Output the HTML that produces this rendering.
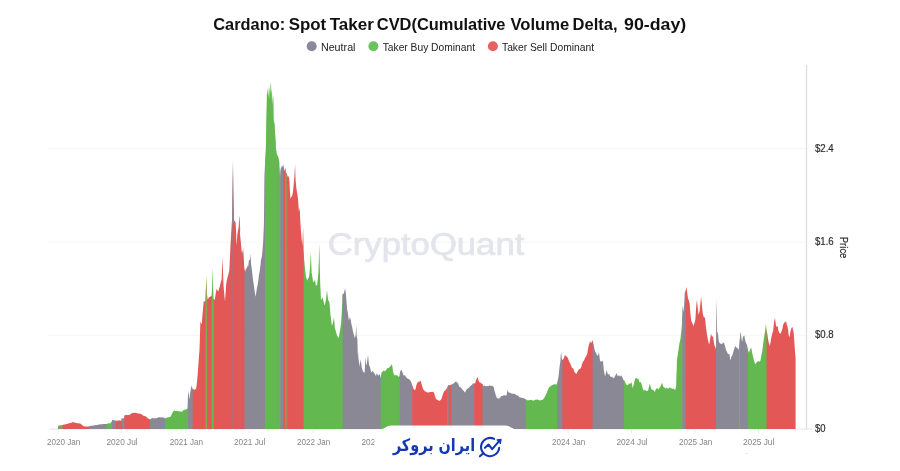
<!DOCTYPE html>
<html lang="en"><head><meta charset="utf-8"><title>Cardano: Spot Taker CVD</title>
<style>
html,body{margin:0;padding:0;background:#fff;}
body{width:900px;height:471px;position:relative;overflow:hidden;font-family:"Liberation Sans","DejaVu Sans",sans-serif;}
svg{position:absolute;left:0;top:0;will-change:transform;}
svg text{font-family:"Liberation Sans","DejaVu Sans",sans-serif;}
#brand{z-index:3;position:absolute;left:374.2px;top:432.3px;width:120px;height:26px;line-height:26px;font-family:"DejaVu Sans","Liberation Sans",sans-serif;font-weight:bold;font-size:17.3px;color:#1338B4;direction:rtl;text-align:center;white-space:nowrap;transform:scale(0.833,1);transform-origin:50% 50%;}
#copy{position:absolute;left:744px;top:452.6px;height:1.8px;overflow:hidden;font-size:6.6px;line-height:8px;color:#c0c0c0;white-space:nowrap;}
</style></head><body>
<svg width="900" height="471" viewBox="0 0 900 471">
<text y="29.9" font-size="16.5" font-weight="bold" fill="#111"><tspan x="213.3" textLength="71.8" lengthAdjust="spacingAndGlyphs">Cardano:</tspan> <tspan x="288.7" textLength="37.5" lengthAdjust="spacingAndGlyphs">Spot</tspan> <tspan x="329.7" textLength="44.1" lengthAdjust="spacingAndGlyphs">Taker</tspan> <tspan x="376.8" textLength="128.7" lengthAdjust="spacingAndGlyphs">CVD(Cumulative</tspan> <tspan x="510.5" textLength="58.8" lengthAdjust="spacingAndGlyphs">Volume</tspan> <tspan x="572.6" textLength="45.0" lengthAdjust="spacingAndGlyphs">Delta,</tspan> <tspan x="624.1" textLength="62.2" lengthAdjust="spacingAndGlyphs">90-day)</tspan></text>
<circle cx="311.7" cy="46.2" r="5" fill="#8B8998"/><circle cx="373.4" cy="46.2" r="5" fill="#6CC25E"/><circle cx="492.9" cy="46.2" r="5" fill="#E86060"/>
<g font-size="11.2" fill="#222">
<text x="320.9" y="50.9" textLength="34.6" lengthAdjust="spacingAndGlyphs">Neutral</text>
<text x="382.7" y="50.9" textLength="92.3" lengthAdjust="spacingAndGlyphs">Taker Buy Dominant</text>
<text x="502" y="50.9" textLength="92" lengthAdjust="spacingAndGlyphs">Taker Sell Dominant</text>
</g>
<g stroke="#f5f5f5" stroke-width="1">
<line x1="48" x2="806" y1="148.6" y2="148.6"/><line x1="48" x2="806" y1="242.2" y2="242.2"/><line x1="48" x2="806" y1="335.2" y2="335.2"/>
<line x1="49" x2="812" y1="429" y2="429" stroke="#e6e6ea"/>
<path d="M58 429V433M121.5 429V433M185.5 429V433M249 429V433M313 429V433M568 429V433M631.5 429V433M695 429V433M758.5 429V433" stroke="#ececec"/>
</g>
<text x="327.8" y="255.4" font-size="31.5" fill="#E4E4EC" stroke="#E4E4EC" stroke-width="0.7" textLength="196.5" lengthAdjust="spacingAndGlyphs">CryptoQuant</text>
<g>
<path d="M58.0 429.0 L58.0 425.9 L58.5 425.8 L59.0 425.7 L59.5 425.5 L60.2 425.3 L60.2 429.0Z" fill="#8E9870"/>
<path d="M59.5 429.0 L59.5 425.5 L60.0 425.3 L60.5 425.3 L61.0 425.3 L61.7 425.2 L61.7 429.0Z" fill="#63B94F"/>
<path d="M61.0 429.0 L61.0 425.3 L61.5 425.2 L62.0 425.2 L62.5 425.0 L63.2 424.8 L63.2 429.0Z" fill="#B08A60"/>
<path d="M62.5 429.0 L62.5 425.0 L63.0 424.9 L63.3 424.8 L63.5 424.8 L64.0 424.6 L64.5 424.6 L65.0 424.6 L65.5 424.4 L66.0 424.1 L66.5 423.9 L66.7 423.9 L67.0 423.8 L67.5 423.8 L68.0 423.8 L68.5 423.6 L69.0 423.3 L69.5 423.2 L70.0 423.1 L70.5 422.9 L71.0 422.7 L71.5 422.7 L72.0 422.6 L72.5 422.3 L73.0 422.1 L73.3 422.1 L73.5 422.2 L74.0 422.4 L74.5 422.6 L75.0 422.8 L75.5 422.8 L76.0 422.8 L76.5 423.0 L76.7 423.1 L77.0 423.2 L77.5 423.2 L78.0 423.3 L78.5 423.2 L79.0 423.2 L79.5 423.4 L80.0 423.6 L80.5 423.7 L80.8 423.7 L81.0 423.9 L81.5 424.4 L82.0 425.0 L82.5 425.5 L83.0 425.7 L83.5 426.0 L84.0 426.3 L84.5 426.4 L85.0 426.5 L85.5 426.5 L86.0 426.5 L86.5 426.5 L87.0 426.5 L87.5 426.5 L88.0 426.4 L88.3 426.4 L88.5 426.4 L89.0 426.4 L89.2 426.3 L89.9 426.0 L89.9 429.0Z" fill="#E35756"/>
<path d="M89.2 429.0 L89.2 426.3 L89.7 426.1 L90.2 426.0 L90.7 425.9 L91.2 425.8 L91.7 425.7 L91.7 425.7 L92.2 425.6 L92.7 425.7 L93.2 425.6 L93.7 425.6 L94.2 425.4 L94.7 425.2 L95.2 425.1 L95.7 425.0 L95.8 425.0 L96.2 425.0 L96.7 424.9 L97.2 424.8 L97.7 424.9 L98.2 424.8 L98.7 424.6 L99.2 424.5 L99.7 424.4 L100.0 424.4 L100.2 424.3 L100.7 424.3 L101.2 424.2 L101.7 424.2 L102.2 424.2 L102.7 424.2 L103.2 424.1 L103.7 424.1 L104.2 424.1 L104.7 424.1 L105.2 424.1 L105.7 424.1 L106.2 424.1 L106.7 424.1 L106.7 424.1 L107.4 423.7 L107.4 429.0Z" fill="#8B8896"/>
<path d="M106.7 429.0 L106.7 424.1 L107.2 423.8 L107.7 423.5 L108.2 423.2 L108.3 423.1 L108.7 423.2 L109.2 423.4 L109.7 423.4 L110.0 423.5 L110.2 423.3 L110.7 422.8 L111.2 422.3 L111.7 421.8 L111.7 421.7 L112.0 420.9 L112.7 419.9 L112.7 429.0Z" fill="#63B94F"/>
<path d="M112.0 429.0 L112.0 420.9 L112.3 420.0 L112.5 420.0 L113.0 419.9 L113.5 420.1 L114.0 420.3 L114.5 420.3 L115.0 420.4 L115.5 420.4 L115.8 420.4 L116.5 420.8 L116.5 429.0Z" fill="#8B8896"/>
<path d="M115.8 429.0 L115.8 420.4 L115.8 420.4 L116.0 420.9 L116.3 420.8 L116.8 420.7 L117.3 420.7 L117.8 420.7 L118.3 420.6 L119.0 420.4 L119.0 429.0Z" fill="#E35756"/>
<path d="M118.3 429.0 L118.3 420.6 L118.8 420.5 L119.5 420.6 L119.5 429.0Z" fill="#8B8896"/>
<path d="M118.8 429.0 L118.8 420.5 L119.3 420.5 L119.8 420.7 L120.3 420.7 L120.8 420.6 L121.3 420.5 L121.3 420.5 L121.7 418.6 L121.7 418.6 L122.4 418.4 L122.4 429.0Z" fill="#E35756"/>
<path d="M121.7 429.0 L121.7 418.6 L122.2 418.4 L122.7 418.3 L123.2 418.3 L123.7 418.4 L124.0 418.5 L124.2 417.3 L124.9 415.3 L124.9 429.0Z" fill="#8B8896"/>
<path d="M124.2 429.0 L124.2 417.2 L124.5 415.3 L124.7 415.3 L125.2 415.2 L125.7 414.9 L126.2 414.8 L126.7 415.1 L127.2 415.1 L127.7 415.0 L128.2 414.9 L128.7 414.8 L129.2 414.8 L129.7 414.8 L130.0 414.9 L130.2 414.5 L130.7 413.7 L130.8 413.5 L131.2 413.5 L131.7 413.5 L132.2 413.3 L132.7 413.0 L133.2 412.8 L133.7 413.0 L134.2 412.9 L134.7 412.7 L135.0 412.5 L135.2 412.6 L135.7 412.9 L136.2 413.1 L136.7 413.0 L137.2 413.1 L137.7 413.4 L138.2 413.6 L138.7 413.7 L139.2 413.7 L139.7 413.6 L140.2 413.6 L140.7 413.9 L140.8 413.9 L141.2 414.2 L141.7 414.4 L142.2 414.7 L142.7 415.1 L143.2 415.5 L143.3 415.7 L143.7 415.9 L144.2 416.1 L144.7 416.1 L145.2 416.2 L145.7 416.4 L145.8 416.5 L146.2 416.8 L146.7 417.3 L147.2 417.7 L147.7 418.2 L148.2 418.6 L148.3 418.6 L148.7 418.8 L149.2 419.0 L149.7 419.3 L150.0 419.4 L150.7 419.1 L150.7 429.0Z" fill="#E35756"/>
<path d="M150.0 429.0 L150.0 419.4 L150.5 419.2 L151.0 419.0 L151.5 418.5 L152.0 417.9 L152.5 418.1 L153.0 418.3 L153.5 418.3 L154.0 418.4 L154.5 418.3 L155.0 418.1 L155.5 418.2 L156.0 418.3 L156.5 418.3 L156.7 418.3 L157.0 418.1 L157.5 417.8 L158.0 417.5 L158.3 417.2 L158.5 417.2 L159.0 417.3 L159.5 417.3 L160.0 417.3 L160.5 417.3 L161.0 417.4 L161.5 417.5 L162.0 417.6 L162.5 417.5 L163.0 417.4 L163.5 417.4 L164.0 417.5 L164.2 417.5 L164.5 417.9 L165.0 418.4 L165.7 418.3 L165.7 429.0Z" fill="#8B8896"/>
<path d="M165.0 429.0 L165.0 418.5 L165.3 418.7 L165.5 418.5 L166.0 418.0 L166.5 417.7 L166.7 417.5 L167.0 417.5 L167.5 417.5 L168.0 417.6 L168.5 417.4 L169.0 417.1 L169.5 417.0 L170.0 416.9 L170.5 416.6 L170.8 416.4 L171.0 416.0 L171.5 414.8 L172.0 413.7 L172.5 412.5 L173.0 412.0 L173.5 411.3 L174.0 410.5 L174.2 410.4 L174.5 410.6 L175.0 410.9 L175.5 410.9 L176.0 411.0 L176.5 410.8 L177.0 410.7 L177.5 411.0 L178.0 411.2 L178.3 411.2 L178.5 411.2 L179.0 411.2 L179.5 411.4 L180.0 411.5 L180.5 411.5 L181.0 411.5 L181.5 411.7 L181.7 411.7 L182.0 411.5 L182.5 411.2 L183.0 410.8 L183.3 410.3 L183.5 410.2 L184.0 409.8 L184.5 409.7 L185.0 409.6 L185.5 409.7 L185.8 409.7 L186.0 409.6 L186.5 409.2 L187.0 408.9 L187.5 408.1 L188.0 394.8 L188.7 394.6 L188.7 429.0Z" fill="#63B94F"/>
<path d="M188.0 429.0 L188.0 394.5 L188.2 390.6 L188.5 393.1 L189.0 396.8 L189.3 399.2 L189.5 398.0 L190.0 394.1 L190.2 392.5 L190.5 390.9 L191.0 388.2 L191.5 385.7 L191.6 385.5 L192.0 386.9 L192.5 388.4 L192.7 389.0 L193.4 389.4 L193.4 429.0Z" fill="#8B8896"/>
<path d="M192.7 429.0 L192.7 389.1 L192.7 389.2 L193.2 389.3 L193.7 389.5 L194.2 389.7 L194.4 389.9 L194.7 389.8 L195.2 389.6 L195.7 389.1 L196.1 388.8 L196.2 388.3 L196.7 384.4 L197.0 382.1 L197.2 379.6 L197.7 374.0 L197.8 372.4 L198.2 367.2 L198.7 359.7 L198.7 359.5 L199.2 353.2 L199.5 349.6 L199.7 344.1 L200.2 327.5 L200.4 321.5 L200.7 322.3 L201.2 323.4 L201.7 324.1 L201.7 324.1 L202.2 318.4 L202.7 312.4 L203.2 306.8 L203.7 302.0 L203.8 301.2 L204.2 301.6 L204.7 301.2 L205.2 301.1 L205.5 301.3 L205.6 298.0 L206.3 276.7 L206.3 429.0Z" fill="#E35756"/>
<path d="M205.6 429.0 L205.6 297.7 L206.1 282.6 L206.3 275.9 L206.6 283.5 L207.0 294.4 L207.7 299.6 L207.7 429.0Z" fill="#8FA650"/>
<path d="M207.0 429.0 L207.0 294.7 L207.2 299.7 L207.5 299.6 L208.0 299.6 L208.0 299.5 L208.5 298.2 L209.0 296.9 L209.5 296.9 L210.0 296.9 L210.5 296.6 L210.6 296.6 L211.0 296.1 L211.5 296.3 L211.6 296.4 L212.3 280.8 L212.3 429.0Z" fill="#E35756"/>
<path d="M211.6 429.0 L211.6 296.4 L211.9 296.5 L212.1 289.5 L212.6 267.6 L212.6 267.2 L213.1 284.0 L213.5 297.5 L213.6 298.2 L213.8 298.9 L214.5 299.8 L214.5 429.0Z" fill="#63B94F"/>
<path d="M213.8 429.0 L213.8 299.0 L214.3 299.8 L214.8 299.9 L214.8 299.9 L215.3 296.3 L215.8 293.0 L216.3 290.0 L216.5 288.7 L216.8 289.3 L217.3 290.3 L217.8 291.2 L218.2 291.4 L218.3 291.1 L218.8 289.4 L219.3 287.8 L219.8 286.4 L219.9 286.0 L220.3 284.3 L220.8 282.1 L221.3 280.5 L221.6 279.6 L221.8 275.2 L222.3 262.1 L222.5 257.6 L222.8 266.0 L223.3 279.9 L223.5 285.3 L223.8 289.1 L224.3 294.6 L224.8 299.6 L225.0 301.7 L225.3 297.4 L225.8 289.8 L226.2 284.2 L226.3 283.6 L226.8 280.6 L227.3 278.2 L227.6 277.1 L227.8 276.6 L228.3 274.9 L228.8 272.6 L229.3 270.8 L229.3 270.0 L229.8 260.3 L230.3 249.8 L230.4 246.5 L230.8 239.9 L231.0 237.0 L231.3 231.2 L231.8 222.7 L231.8 222.5 L232.2 219.6 L232.9 170.8 L232.9 429.0Z" fill="#E35756"/>
<path d="M232.2 429.0 L232.2 219.6 L232.5 217.4 L232.7 193.6 L233.0 159.9 L233.2 177.4 L233.4 194.2 L234.1 221.0 L234.1 429.0Z" fill="#AE6C76"/>
<path d="M233.4 429.0 L233.4 195.0 L233.7 219.5 L233.9 220.5 L234.4 221.0 L234.4 221.1 L234.9 221.2 L235.4 222.3 L235.7 223.3 L235.9 228.0 L236.4 241.2 L236.6 245.5 L236.9 241.0 L237.4 234.0 L237.4 233.9 L237.9 231.0 L238.4 228.2 L238.6 227.0 L238.9 222.8 L239.2 219.2 L239.9 229.6 L239.9 429.0Z" fill="#E35756"/>
<path d="M239.2 429.0 L239.2 219.1 L239.4 216.1 L239.7 223.6 L240.1 234.9 L240.8 243.4 L240.8 429.0Z" fill="#B56870"/>
<path d="M240.1 429.0 L240.1 235.1 L240.3 240.0 L240.6 242.1 L241.1 245.7 L241.2 246.1 L241.5 250.0 L242.2 254.6 L242.2 429.0Z" fill="#E35756"/>
<path d="M241.5 429.0 L241.5 250.1 L242.0 255.8 L242.3 254.1 L243.0 249.9 L243.0 429.0Z" fill="#B56870"/>
<path d="M242.3 429.0 L242.3 254.0 L242.8 251.1 L243.2 248.0 L243.3 249.9 L243.8 259.0 L244.2 266.5 L244.3 267.4 L244.5 269.5 L245.2 271.4 L245.2 429.0Z" fill="#E35756"/>
<path d="M244.5 429.0 L244.5 269.6 L244.8 272.9 L245.0 272.4 L245.5 269.9 L246.0 268.2 L246.5 268.8 L247.0 267.4 L247.3 265.9 L247.5 266.1 L248.0 266.6 L248.2 266.2 L248.5 263.8 L249.0 259.8 L249.5 259.9 L250.0 260.1 L250.5 254.4 L250.6 253.3 L251.0 263.5 L251.5 267.1 L252.0 270.7 L252.5 275.4 L253.0 280.1 L253.5 283.1 L254.0 286.2 L254.5 290.1 L254.8 292.4 L255.0 293.4 L255.5 295.7 L255.7 296.7 L256.0 294.5 L256.5 290.7 L257.0 287.4 L257.5 285.4 L258.0 282.8 L258.5 278.8 L259.0 274.7 L259.5 272.2 L260.0 269.8 L260.5 264.7 L261.0 259.7 L261.4 258.5 L261.5 258.0 L262.0 255.4 L262.4 251.4 L262.5 250.1 L263.0 243.4 L263.2 241.1 L263.5 233.9 L263.8 226.7 L263.9 225.8 L264.0 217.4 L264.4 176.2 L264.5 174.3 L265.0 164.6 L265.7 150.6 L265.7 429.0Z" fill="#8B8896"/>
<path d="M265.0 429.0 L265.0 164.4 L265.5 154.5 L265.9 146.4 L266.0 140.1 L266.2 122.3 L266.5 110.2 L266.8 97.8 L267.0 91.7 L267.1 89.2 L267.4 94.7 L267.5 93.2 L267.8 86.9 L268.0 93.1 L268.1 97.0 L268.5 85.6 L268.5 87.0 L268.8 97.5 L269.0 91.9 L269.1 87.6 L269.5 100.2 L269.5 99.3 L269.8 84.5 L270.0 89.4 L270.1 94.0 L270.5 85.9 L270.5 85.8 L270.8 83.0 L271.0 82.7 L271.3 93.3 L271.5 91.0 L271.7 88.1 L272.0 102.0 L272.0 102.8 L272.4 92.7 L272.5 98.0 L272.7 105.9 L273.0 96.9 L273.0 95.6 L273.4 98.8 L273.5 105.2 L273.7 117.2 L274.0 124.1 L274.1 125.8 L274.4 121.5 L274.5 121.7 L274.7 122.3 L275.0 133.3 L275.1 136.3 L275.2 132.7 L275.5 137.4 L275.8 142.2 L275.9 147.5 L276.0 148.6 L276.5 152.0 L276.7 153.4 L277.0 154.2 L277.3 155.3 L278.0 156.5 L278.0 429.0Z" fill="#63B94F"/>
<path d="M277.3 429.0 L277.3 155.3 L277.6 156.3 L277.8 156.4 L278.0 156.5 L278.7 159.7 L278.7 429.0Z" fill="#70A862"/>
<path d="M278.0 429.0 L278.0 156.5 L278.4 158.0 L278.5 158.5 L279.0 161.4 L279.3 161.7 L279.5 166.1 L280.0 175.3 L280.1 177.6 L280.2 176.4 L280.9 168.1 L280.9 429.0Z" fill="#63B94F"/>
<path d="M280.2 429.0 L280.2 176.2 L280.6 169.8 L280.7 169.3 L281.0 167.7 L281.2 167.4 L281.7 166.4 L282.2 165.7 L282.7 165.4 L282.7 165.7 L283.2 168.8 L283.2 168.3 L283.4 165.3 L284.1 169.8 L284.1 429.0Z" fill="#8B8896"/>
<path d="M283.4 429.0 L283.4 165.1 L283.5 163.4 L283.9 167.9 L284.0 169.3 L284.4 171.4 L284.4 171.2 L284.9 169.3 L285.2 167.4 L285.3 167.8 L286.0 172.2 L286.0 429.0Z" fill="#E35756"/>
<path d="M285.3 429.0 L285.3 167.9 L285.8 171.0 L286.1 172.9 L286.2 173.0 L286.9 173.5 L286.9 429.0Z" fill="#63B94F"/>
<path d="M286.2 429.0 L286.2 173.0 L286.7 173.3 L286.9 173.5 L287.2 175.0 L287.9 177.4 L287.9 429.0Z" fill="#B07A50"/>
<path d="M287.2 429.0 L287.2 175.0 L287.7 177.3 L287.8 177.6 L288.2 176.7 L288.6 175.7 L288.7 176.2 L289.2 179.1 L289.4 180.6 L289.7 186.8 L289.8 189.1 L290.2 195.6 L290.5 199.3 L290.7 198.2 L291.2 196.8 L291.5 197.1 L291.7 196.7 L292.2 195.4 L292.5 194.3 L292.7 193.3 L293.2 189.8 L293.5 186.6 L293.7 184.3 L294.2 178.4 L294.4 176.8 L294.7 170.7 L295.1 163.9 L295.2 168.3 L295.6 180.0 L295.7 181.3 L296.2 186.5 L296.2 187.0 L296.7 190.2 L297.1 192.9 L297.2 193.5 L297.7 196.3 L297.9 197.7 L298.2 201.3 L298.7 208.5 L298.8 209.9 L298.9 211.9 L299.2 210.5 L299.7 208.1 L299.8 208.0 L300.2 219.4 L300.3 220.8 L300.7 227.0 L300.9 230.4 L301.2 233.5 L301.6 238.9 L301.7 239.7 L302.2 244.8 L302.3 245.9 L302.7 237.3 L303.1 227.5 L303.2 229.8 L303.6 249.3 L304.3 262.7 L304.3 429.0Z" fill="#E35756"/>
<path d="M303.6 429.0 L303.6 249.8 L303.7 252.8 L304.0 259.7 L304.1 260.7 L304.6 265.7 L304.9 268.3 L305.1 269.7 L305.6 273.7 L306.0 277.0 L306.1 277.2 L306.6 278.8 L307.1 280.2 L307.4 280.4 L307.6 279.5 L308.1 277.9 L308.6 278.0 L308.8 278.1 L309.1 276.0 L309.6 272.0 L309.9 269.2 L310.1 266.2 L310.6 256.1 L310.8 252.3 L311.1 259.5 L311.6 271.6 L311.6 272.8 L312.1 275.2 L312.6 278.3 L313.1 281.2 L313.3 282.4 L313.6 282.1 L314.1 281.4 L314.6 280.4 L315.0 279.6 L315.1 280.0 L315.6 283.7 L315.9 285.9 L316.1 285.6 L316.6 285.3 L317.1 284.8 L317.2 284.5 L317.6 280.7 L318.1 275.5 L318.4 272.7 L318.6 267.2 L319.1 250.0 L319.3 243.3 L319.6 257.1 L320.1 279.2 L320.1 280.9 L320.6 291.3 L321.0 300.2 L321.1 300.0 L321.6 298.9 L322.1 298.1 L322.6 297.7 L322.7 297.7 L323.1 299.5 L323.6 301.8 L324.1 304.2 L324.4 305.5 L324.6 304.9 L325.1 303.4 L325.6 301.8 L325.7 301.4 L326.1 298.4 L326.6 293.4 L326.9 290.1 L327.1 291.3 L327.6 295.6 L328.1 299.7 L328.1 299.8 L328.6 300.7 L329.1 301.7 L329.5 302.4 L329.6 303.8 L330.1 309.9 L330.5 315.3 L330.6 315.9 L331.1 319.6 L331.6 323.5 L331.9 325.8 L332.1 325.2 L332.6 323.8 L332.9 323.0 L333.1 322.0 L333.6 319.1 L333.9 317.2 L334.1 318.9 L334.6 324.3 L334.9 328.1 L335.1 328.7 L335.6 330.4 L336.1 332.2 L336.6 334.0 L337.0 335.4 L337.1 335.6 L337.6 336.5 L338.1 337.3 L338.6 338.0 L338.7 338.1 L339.1 336.0 L339.6 332.7 L340.0 329.9 L340.1 329.5 L340.6 326.4 L341.1 323.2 L341.2 322.3 L341.6 314.9 L342.1 305.4 L342.1 305.0 L342.6 294.3 L342.6 294.3 L343.3 294.0 L343.3 429.0Z" fill="#63B94F"/>
<path d="M342.6 429.0 L342.6 294.3 L343.1 294.2 L343.6 293.6 L343.8 293.4 L344.1 292.5 L344.6 290.2 L345.1 288.3 L345.1 288.3 L345.6 291.5 L345.8 293.0 L346.1 296.8 L346.6 302.8 L347.1 308.7 L347.2 309.5 L347.6 311.7 L348.1 314.7 L348.6 318.5 L348.9 320.6 L349.1 319.9 L349.6 317.9 L349.7 317.4 L350.1 317.7 L350.6 319.2 L350.6 319.3 L351.1 322.5 L351.6 324.8 L351.9 326.3 L352.1 327.1 L352.6 329.5 L353.1 331.9 L353.1 331.9 L353.6 333.7 L354.1 335.6 L354.6 337.4 L354.8 338.2 L355.1 337.1 L355.6 335.2 L355.7 334.9 L356.1 326.4 L356.2 324.8 L356.6 334.3 L356.7 336.3 L357.1 338.1 L357.4 339.2 L357.6 347.5 L357.8 356.0 L358.1 350.5 L358.1 351.6 L358.6 361.7 L358.7 362.9 L358.7 358.1 L359.1 362.3 L359.5 366.5 L359.6 366.1 L360.1 362.9 L360.6 360.1 L360.7 359.4 L361.1 362.1 L361.6 366.1 L361.7 367.2 L362.1 368.9 L362.6 370.4 L362.9 371.4 L363.1 371.5 L363.6 372.0 L364.1 372.6 L364.6 373.1 L364.6 373.1 L365.1 363.8 L365.5 356.7 L365.6 358.1 L366.1 363.6 L366.2 364.1 L366.6 365.0 L366.7 365.1 L367.1 361.4 L367.4 359.4 L367.6 357.8 L368.0 355.0 L368.1 355.8 L368.6 361.1 L368.9 364.1 L369.1 365.0 L369.6 366.3 L369.7 366.7 L370.1 367.6 L370.6 369.7 L371.1 371.7 L371.4 372.5 L371.6 372.2 L372.1 371.4 L372.6 370.9 L372.6 370.9 L373.1 371.6 L373.6 372.3 L374.0 372.8 L374.1 373.0 L374.6 373.7 L375.1 374.5 L375.6 375.7 L375.7 375.8 L376.1 375.3 L376.6 374.1 L377.0 373.1 L377.1 373.2 L377.6 374.6 L378.1 375.7 L378.2 375.8 L378.6 375.3 L379.1 374.7 L379.6 374.3 L379.9 374.1 L380.1 375.1 L380.6 377.6 L380.8 378.5 L380.8 378.3 L381.5 372.9 L381.5 429.0Z" fill="#8B8896"/>
<path d="M380.8 429.0 L380.8 378.2 L381.3 374.3 L381.6 372.1 L381.8 372.1 L382.3 371.9 L382.8 371.6 L383.3 370.7 L383.3 370.7 L383.8 370.5 L384.3 370.9 L384.5 371.2 L384.8 371.1 L385.3 370.8 L385.8 370.5 L385.9 370.4 L386.3 369.8 L386.8 369.1 L387.2 368.2 L387.3 368.2 L387.8 368.0 L388.3 368.1 L388.4 368.2 L388.8 367.8 L389.3 367.3 L389.8 366.8 L390.1 366.6 L390.3 366.4 L390.8 365.7 L391.0 365.5 L391.3 364.9 L391.8 364.0 L391.8 364.0 L392.3 366.3 L392.5 367.1 L392.8 370.0 L393.0 371.9 L393.3 372.6 L393.8 373.9 L394.3 375.1 L394.4 375.3 L394.8 375.3 L395.3 375.3 L395.8 375.3 L396.3 375.3 L396.8 375.3 L396.9 375.3 L397.3 375.6 L397.8 375.8 L398.3 376.4 L398.6 376.9 L398.8 376.7 L399.3 376.2 L399.6 375.9 L399.8 374.0 L400.5 371.0 L400.5 429.0Z" fill="#63B94F"/>
<path d="M399.8 429.0 L399.8 373.9 L400.0 372.0 L400.3 371.4 L400.8 370.4 L401.1 370.0 L401.3 370.1 L401.8 370.6 L402.0 370.8 L402.3 371.7 L402.8 373.2 L402.9 373.4 L403.3 374.4 L403.7 375.5 L403.8 375.5 L404.3 375.4 L404.8 375.1 L404.9 375.0 L405.3 375.8 L405.8 376.6 L406.2 377.4 L406.3 377.4 L406.8 377.8 L407.3 378.2 L407.8 378.7 L407.9 378.9 L408.3 378.9 L408.8 379.0 L409.3 379.2 L409.3 379.2 L409.8 380.1 L410.3 380.6 L410.5 380.6 L410.8 381.2 L411.3 382.5 L411.3 382.6 L411.8 384.0 L412.2 385.3 L412.2 385.3 L412.9 387.3 L412.9 429.0Z" fill="#8B8896"/>
<path d="M412.2 429.0 L412.2 385.3 L412.7 386.8 L413.0 387.7 L413.2 388.0 L413.7 389.1 L414.2 390.0 L414.4 390.2 L414.7 389.9 L415.2 389.4 L415.6 389.0 L415.7 388.5 L416.2 386.0 L416.4 384.9 L416.7 384.2 L417.2 382.7 L417.3 382.4 L417.7 382.5 L418.1 382.7 L418.2 382.6 L418.7 381.6 L419.0 381.1 L419.2 381.3 L419.7 381.7 L419.8 381.9 L420.2 381.2 L420.7 380.5 L420.7 380.6 L421.2 382.7 L421.5 383.9 L421.7 384.5 L422.2 386.4 L422.4 387.1 L422.7 387.7 L423.2 388.9 L423.6 389.9 L423.7 390.1 L424.2 390.6 L424.7 391.1 L424.9 391.3 L425.2 391.4 L425.7 391.4 L426.2 391.6 L426.6 392.2 L426.7 392.2 L427.2 392.4 L427.7 392.3 L428.2 392.4 L428.3 392.5 L428.7 392.6 L429.2 392.5 L429.7 392.1 L430.0 391.9 L430.2 391.9 L430.7 391.9 L431.2 392.0 L431.7 392.1 L431.7 392.1 L432.2 392.0 L432.7 391.7 L433.1 391.6 L433.2 391.8 L433.7 392.6 L434.2 393.2 L434.3 393.3 L434.7 394.9 L435.1 396.5 L435.2 396.8 L435.7 398.2 L436.0 398.9 L436.2 399.1 L436.7 399.4 L437.2 399.7 L437.7 399.9 L437.7 400.0 L438.2 400.3 L438.7 400.8 L439.2 401.0 L439.4 401.0 L439.7 400.6 L440.2 400.2 L440.6 400.2 L440.7 400.1 L441.2 399.3 L441.7 398.1 L441.9 397.6 L442.2 396.6 L442.7 394.8 L442.8 394.6 L443.2 393.6 L443.6 392.5 L443.7 392.3 L444.2 391.4 L444.5 390.9 L444.7 390.8 L445.2 390.4 L445.3 390.3 L445.7 389.8 L446.2 389.1 L446.2 389.0 L446.7 388.6 L447.0 388.3 L447.7 386.2 L447.7 429.0Z" fill="#E35756"/>
<path d="M447.0 429.0 L447.0 388.3 L447.0 388.3 L447.5 386.8 L447.9 385.7 L448.0 385.5 L448.5 385.2 L448.7 385.0 L449.4 385.3 L449.4 429.0Z" fill="#8B8896"/>
<path d="M448.7 429.0 L448.7 385.0 L448.7 385.0 L449.2 385.2 L449.7 385.3 L450.2 385.3 L450.4 385.2 L450.7 385.0 L451.2 384.8 L451.3 384.8 L451.3 384.8 L452.0 384.4 L452.0 429.0Z" fill="#E35756"/>
<path d="M451.3 429.0 L451.3 384.8 L451.8 384.5 L452.0 384.4 L452.7 384.2 L452.7 429.0Z" fill="#8B8896"/>
<path d="M452.0 429.0 L452.0 384.4 L452.1 384.3 L452.5 384.3 L453.0 384.2 L453.5 383.6 L453.8 383.2 L454.0 383.0 L454.5 382.6 L455.0 382.1 L455.5 381.9 L455.5 381.9 L456.0 381.4 L456.4 381.3 L456.5 381.7 L457.0 383.0 L457.2 383.4 L457.5 383.1 L458.0 382.6 L458.1 382.6 L458.5 384.5 L458.9 386.3 L459.0 386.4 L459.5 386.8 L460.0 387.2 L460.5 387.3 L460.6 387.3 L461.0 387.6 L461.5 388.4 L462.0 389.1 L462.3 389.6 L462.5 389.8 L463.0 390.3 L463.5 390.8 L464.0 391.2 L464.5 392.1 L464.9 392.6 L465.0 392.4 L465.5 391.5 L465.7 391.1 L466.0 390.6 L466.5 389.6 L466.6 389.5 L467.0 389.3 L467.5 388.7 L468.0 388.0 L468.2 388.1 L468.5 388.0 L469.0 387.9 L469.5 387.1 L469.9 386.3 L470.0 386.2 L470.5 386.0 L471.0 385.7 L471.1 385.6 L471.5 385.3 L472.0 384.9 L472.5 383.8 L473.0 383.4 L473.5 383.4 L474.0 383.4 L474.2 383.6 L474.2 383.6 L474.9 383.6 L474.9 429.0Z" fill="#8B8896"/>
<path d="M474.2 429.0 L474.2 383.6 L474.7 383.6 L475.0 383.6 L475.2 383.0 L475.7 381.1 L475.9 380.4 L476.2 379.7 L476.7 378.7 L476.7 378.6 L477.2 377.8 L477.6 377.2 L477.7 377.5 L478.2 379.2 L478.4 379.9 L478.7 380.7 L479.2 382.1 L479.3 382.2 L479.7 382.3 L480.0 382.4 L480.2 382.5 L480.6 382.7 L480.7 382.8 L481.2 383.3 L481.7 383.7 L481.8 383.8 L482.5 384.3 L482.5 429.0Z" fill="#E35756"/>
<path d="M481.8 429.0 L481.8 383.8 L481.8 383.9 L482.1 383.5 L482.3 383.9 L482.5 384.3 L483.2 386.2 L483.2 429.0Z" fill="#E35756"/>
<path d="M482.5 429.0 L482.5 384.3 L482.7 384.8 L483.0 385.7 L483.2 386.2 L483.5 385.9 L484.0 385.5 L484.4 385.5 L484.5 385.5 L485.0 385.8 L485.3 385.9 L485.5 386.1 L486.0 386.4 L486.5 386.1 L487.0 385.9 L487.5 386.1 L488.0 386.3 L488.5 386.1 L489.0 385.6 L489.5 385.6 L490.0 385.5 L490.5 385.7 L490.6 385.7 L491.0 386.0 L491.5 385.7 L492.0 385.4 L492.5 386.0 L493.0 386.7 L493.5 386.8 L493.8 386.8 L494.0 388.1 L494.4 390.6 L494.5 390.8 L495.0 392.2 L495.3 393.6 L495.5 394.3 L496.0 396.0 L496.5 396.9 L497.0 397.9 L497.5 398.2 L498.0 398.5 L498.5 398.6 L499.0 398.7 L499.1 398.6 L499.5 398.3 L500.0 397.8 L500.2 397.8 L500.5 397.3 L501.0 396.5 L501.2 396.1 L501.5 396.0 L502.0 395.9 L502.5 395.9 L503.0 395.8 L503.4 395.6 L503.5 395.4 L504.0 395.0 L504.5 395.2 L505.0 395.4 L505.5 395.4 L506.0 395.4 L506.5 395.2 L506.6 395.1 L507.0 392.8 L507.2 391.8 L507.5 390.2 L507.6 389.6 L508.0 391.1 L508.3 392.0 L508.5 392.2 L508.7 392.4 L509.0 392.3 L509.5 392.7 L510.0 393.1 L510.5 393.1 L510.8 393.2 L511.0 393.2 L511.5 393.4 L512.0 393.7 L512.5 393.8 L513.0 393.8 L513.5 393.8 L514.0 393.8 L514.0 393.8 L514.5 393.8 L515.0 393.9 L515.5 394.4 L516.0 394.9 L516.1 395.0 L516.5 395.1 L517.0 395.4 L517.5 395.4 L518.0 395.4 L518.2 395.7 L518.5 396.1 L519.0 396.9 L519.5 397.2 L520.0 397.4 L520.4 397.5 L520.5 397.5 L521.0 397.3 L521.5 397.8 L522.0 398.3 L522.5 398.0 L522.5 398.0 L523.0 397.8 L523.5 398.0 L524.0 398.3 L524.5 398.7 L525.0 399.0 L525.5 399.1 L525.7 399.2 L525.7 399.2 L526.4 399.9 L526.4 429.0Z" fill="#8B8896"/>
<path d="M525.7 429.0 L525.7 399.2 L526.2 399.7 L526.7 400.1 L526.7 400.2 L527.2 400.2 L527.7 400.3 L528.2 400.3 L528.7 400.3 L529.2 400.2 L529.7 400.2 L529.9 400.1 L530.2 400.1 L530.7 400.1 L531.2 400.1 L531.7 400.0 L532.2 400.2 L532.7 400.5 L533.1 400.7 L533.2 400.7 L533.7 400.5 L534.2 400.3 L534.7 400.0 L535.2 399.7 L535.7 399.6 L535.7 399.7 L536.2 399.7 L536.7 399.6 L537.2 399.5 L537.4 399.5 L537.7 399.6 L538.2 399.7 L538.7 399.9 L539.2 400.2 L539.5 400.4 L539.7 400.5 L540.2 400.5 L540.7 400.0 L541.2 399.8 L541.7 400.0 L542.2 400.1 L542.7 399.9 L542.7 399.9 L543.2 399.1 L543.7 398.6 L543.7 398.5 L544.2 398.0 L544.7 397.0 L544.8 396.8 L545.2 396.0 L545.7 394.9 L545.9 394.6 L546.2 393.9 L546.7 393.0 L546.9 392.6 L547.2 391.8 L547.7 390.3 L548.0 389.5 L548.2 389.2 L548.7 388.3 L549.0 387.7 L549.2 387.5 L549.7 386.7 L550.1 386.2 L550.2 386.2 L550.7 386.2 L551.2 386.0 L551.2 385.9 L551.7 385.3 L552.2 384.9 L552.7 384.9 L552.7 384.9 L553.2 384.7 L553.7 384.5 L554.2 384.3 L554.4 384.3 L554.7 384.2 L555.2 384.2 L555.7 384.5 L556.2 384.6 L556.5 384.5 L556.7 384.1 L557.0 383.5 L557.7 381.1 L557.7 429.0Z" fill="#63B94F"/>
<path d="M557.0 429.0 L557.0 383.5 L557.5 382.1 L557.5 382.0 L558.0 379.3 L558.4 377.3 L558.5 376.4 L559.0 372.2 L559.0 372.0 L559.5 367.5 L559.7 365.8 L560.0 363.8 L560.3 361.8 L560.5 359.1 L560.7 355.8 L561.0 353.3 L561.2 351.8 L561.5 355.3 L561.8 358.2 L562.0 358.9 L562.4 360.2 L563.1 359.4 L563.1 429.0Z" fill="#8B8896"/>
<path d="M562.4 429.0 L562.4 360.2 L562.4 360.3 L562.9 359.7 L563.3 359.1 L563.4 358.9 L563.9 357.9 L563.9 357.8 L564.4 356.5 L564.9 355.0 L565.0 354.8 L565.4 355.4 L565.9 356.2 L566.0 356.3 L566.4 356.4 L566.9 356.5 L567.1 356.6 L567.4 357.3 L567.9 358.3 L568.2 358.8 L568.4 359.5 L568.9 361.0 L569.2 361.8 L569.4 362.1 L569.9 362.7 L570.3 363.5 L570.4 363.7 L570.9 365.0 L571.4 366.4 L571.4 366.5 L571.9 367.8 L572.4 368.2 L572.4 368.2 L572.9 368.0 L573.4 368.9 L573.5 369.1 L573.9 370.5 L574.4 371.7 L574.5 372.0 L574.9 372.4 L575.4 373.0 L575.6 373.2 L575.9 373.5 L576.4 373.7 L576.7 373.7 L576.9 373.0 L577.4 372.0 L577.7 371.4 L577.9 371.1 L578.4 370.2 L578.8 369.4 L578.9 369.4 L579.4 369.1 L579.9 368.9 L579.9 368.8 L580.4 368.4 L580.9 368.0 L580.9 368.0 L581.4 366.4 L581.9 364.6 L582.0 364.3 L582.4 363.2 L582.9 361.8 L583.0 361.5 L583.4 361.2 L583.9 360.7 L584.1 360.4 L584.4 359.6 L584.9 358.2 L585.2 357.6 L585.4 357.3 L585.9 356.6 L586.2 356.2 L586.4 355.8 L586.9 354.7 L587.3 353.4 L587.4 352.7 L587.9 349.4 L588.1 348.2 L588.4 346.9 L588.8 345.1 L588.9 344.9 L589.4 343.3 L589.4 343.3 L589.9 341.5 L590.0 341.0 L590.4 341.9 L590.9 343.2 L591.4 342.8 L591.5 342.8 L591.9 341.3 L592.2 340.2 L592.4 340.4 L592.6 340.6 L592.6 340.6 L593.3 343.9 L593.3 429.0Z" fill="#E35756"/>
<path d="M592.6 429.0 L592.6 340.6 L593.1 343.0 L593.6 345.2 L593.7 345.4 L594.1 347.1 L594.6 349.5 L594.7 350.0 L595.1 351.3 L595.6 352.2 L595.8 352.6 L596.1 353.0 L596.6 354.3 L596.9 354.9 L597.1 355.2 L597.6 355.6 L597.9 355.8 L598.1 355.2 L598.6 353.5 L599.0 352.2 L599.1 353.3 L599.6 357.5 L600.0 360.9 L600.1 360.9 L600.6 361.3 L601.1 361.6 L601.6 361.6 L602.1 361.4 L602.2 361.2 L602.6 361.0 L603.0 360.8 L603.1 362.2 L603.6 367.8 L603.7 369.0 L604.1 371.7 L604.5 373.7 L604.6 374.3 L605.1 376.0 L605.2 376.4 L605.6 374.4 L605.9 372.7 L606.1 372.1 L606.6 370.3 L606.7 370.0 L607.1 371.8 L607.4 373.1 L607.6 373.4 L608.1 374.3 L608.2 374.4 L608.6 374.2 L609.1 374.0 L609.2 374.0 L609.6 374.9 L610.1 376.0 L610.4 376.6 L610.6 376.8 L611.1 377.1 L611.6 376.7 L611.9 376.5 L612.1 376.6 L612.6 377.4 L613.1 378.2 L613.4 378.3 L613.6 378.1 L614.1 377.7 L614.6 377.0 L614.9 376.6 L615.1 375.9 L615.6 375.0 L616.1 373.9 L616.3 373.1 L616.6 373.6 L617.1 374.8 L617.1 374.8 L617.6 375.8 L617.8 376.2 L618.1 376.1 L618.6 375.6 L619.0 375.2 L619.1 375.3 L619.6 376.1 L620.1 376.7 L620.1 376.6 L620.6 375.9 L621.1 375.3 L621.6 376.0 L622.1 376.7 L622.3 376.9 L622.6 377.7 L623.1 379.0 L623.5 379.9 L623.6 380.1 L624.0 380.6 L624.7 381.3 L624.7 429.0Z" fill="#8B8896"/>
<path d="M624.0 429.0 L624.0 380.6 L624.5 381.0 L624.5 381.0 L625.0 381.9 L625.3 382.6 L625.5 383.1 L626.0 384.1 L626.5 384.8 L627.0 385.5 L627.0 385.5 L627.5 385.2 L628.0 384.8 L628.2 384.7 L628.5 384.1 L629.0 383.2 L629.0 383.2 L629.5 383.7 L629.7 383.9 L630.0 383.7 L630.5 383.5 L630.8 383.3 L631.0 382.9 L631.5 381.8 L632.0 385.0 L632.1 385.6 L632.5 387.3 L632.7 388.1 L633.0 387.1 L633.5 385.3 L633.9 384.0 L634.0 383.5 L634.5 381.3 L634.9 379.4 L635.0 379.2 L635.5 378.4 L635.7 378.1 L636.0 377.9 L636.4 377.9 L636.5 378.0 L637.0 378.7 L637.4 379.0 L637.5 379.0 L638.0 378.4 L638.3 378.4 L638.5 379.0 L638.9 380.7 L639.0 381.0 L639.4 382.4 L639.5 382.3 L640.0 382.0 L640.1 381.9 L640.5 382.0 L640.9 382.2 L641.0 382.6 L641.5 383.9 L641.6 384.2 L642.0 385.3 L642.4 386.7 L642.5 387.3 L643.0 389.2 L643.1 389.5 L643.5 390.2 L643.8 390.8 L644.0 390.6 L644.5 390.0 L644.9 389.6 L645.0 389.7 L645.5 390.3 L646.0 391.0 L646.1 391.1 L646.5 391.0 L647.0 391.0 L647.2 391.0 L647.5 390.7 L648.0 390.2 L648.3 389.7 L648.5 388.8 L649.0 386.5 L649.0 386.4 L649.5 384.8 L649.8 383.9 L650.0 384.5 L650.5 386.2 L650.5 386.2 L651.0 387.8 L651.3 388.8 L651.5 389.1 L652.0 389.9 L652.3 389.8 L652.5 389.8 L653.0 389.7 L653.5 390.2 L653.5 390.2 L654.0 391.1 L654.2 391.4 L654.5 391.5 L655.0 391.6 L655.0 391.5 L655.5 390.0 L655.7 389.4 L656.0 389.1 L656.5 388.6 L656.5 388.6 L657.0 388.4 L657.5 388.3 L657.6 388.3 L658.0 388.8 L658.5 389.2 L658.7 389.4 L659.0 388.7 L659.4 387.7 L659.5 387.7 L660.0 387.1 L660.2 386.9 L660.5 386.2 L661.0 385.2 L661.2 384.7 L661.5 384.1 L662.0 382.8 L662.1 382.6 L662.5 384.0 L662.9 385.2 L663.0 385.7 L663.5 386.9 L663.6 387.1 L664.0 387.3 L664.5 387.6 L664.5 387.7 L665.0 388.1 L665.4 388.6 L665.5 388.5 L666.0 388.4 L666.5 387.9 L666.6 387.8 L667.0 387.9 L667.5 388.3 L667.6 388.3 L668.0 388.8 L668.5 388.7 L668.6 388.7 L669.0 388.0 L669.5 387.6 L669.8 387.3 L670.0 387.5 L670.5 387.9 L671.0 388.4 L671.0 388.4 L671.5 388.4 L672.0 388.3 L672.1 388.5 L672.5 388.7 L673.0 388.9 L673.1 388.7 L673.5 388.8 L674.0 389.0 L674.3 389.3 L674.5 389.5 L675.0 389.9 L675.0 390.0 L675.5 388.8 L675.8 388.1 L676.0 386.7 L676.2 384.9 L676.5 369.6 L676.5 369.0 L676.5 378.6 L676.9 360.1 L677.0 359.6 L677.5 356.3 L677.8 354.4 L678.0 353.2 L678.4 350.1 L678.5 349.6 L679.0 346.3 L679.5 343.1 L679.5 343.1 L680.0 340.8 L680.5 338.7 L680.5 338.4 L681.0 333.8 L681.4 330.5 L681.5 329.3 L682.0 323.6 L682.0 323.0 L682.2 318.8 L682.9 306.4 L682.9 429.0Z" fill="#63B94F"/>
<path d="M682.2 429.0 L682.2 318.5 L682.7 305.3 L682.7 305.4 L683.2 308.6 L683.3 309.5 L683.7 312.1 L683.7 312.3 L684.2 303.3 L684.4 299.7 L684.7 294.4 L684.8 292.8 L685.2 291.6 L685.4 291.2 L685.7 290.8 L686.4 287.5 L686.4 429.0Z" fill="#8B8896"/>
<path d="M685.7 429.0 L685.7 290.8 L686.1 289.9 L686.2 289.0 L686.5 286.8 L686.7 288.4 L687.1 292.0 L687.2 292.5 L687.7 296.2 L688.0 298.2 L688.2 298.8 L688.7 300.1 L688.8 300.4 L689.2 301.7 L689.7 303.8 L689.7 304.1 L690.2 311.1 L690.3 312.7 L690.7 316.2 L691.2 320.6 L691.2 320.7 L691.7 321.8 L692.2 322.9 L692.2 322.9 L692.7 324.0 L693.2 325.7 L693.3 326.1 L693.7 325.1 L694.2 323.8 L694.4 323.3 L694.7 322.2 L695.2 320.3 L695.4 319.2 L695.7 314.2 L696.1 307.8 L696.2 306.5 L696.7 301.7 L696.9 299.8 L697.2 302.6 L697.7 307.7 L697.8 308.3 L698.2 311.7 L698.6 314.8 L698.7 314.5 L699.2 312.9 L699.2 312.8 L699.7 310.7 L699.7 310.5 L700.2 305.4 L700.5 302.0 L700.7 300.4 L701.2 296.5 L701.2 297.0 L701.7 302.7 L702.0 306.2 L702.2 308.0 L702.7 312.7 L702.9 314.2 L703.2 315.3 L703.7 316.7 L703.9 317.3 L704.2 317.5 L704.7 317.4 L705.0 317.4 L705.2 319.6 L705.7 324.7 L706.0 328.0 L706.2 329.0 L706.7 332.3 L707.1 335.2 L707.2 335.8 L707.7 338.7 L708.2 341.3 L708.2 341.4 L708.7 343.1 L709.2 344.6 L709.2 344.7 L709.7 341.8 L710.1 339.3 L710.2 338.6 L710.7 335.6 L710.9 334.2 L711.2 334.6 L711.7 335.8 L712.0 336.4 L712.2 336.5 L712.7 336.6 L713.0 336.6 L713.2 337.7 L713.7 341.2 L713.9 342.6 L714.2 344.2 L714.5 345.8 L714.7 345.9 L715.2 346.7 L715.4 347.2 L715.7 348.4 L716.0 349.5 L716.7 300.5 L716.7 429.0Z" fill="#E35756"/>
<path d="M716.0 429.0 L716.0 349.6 L716.0 349.5 L716.5 310.9 L716.7 297.9 L717.0 324.8 L717.1 331.7 L717.5 332.3 L717.7 332.7 L718.0 334.3 L718.5 338.7 L718.8 341.2 L719.0 341.8 L719.5 342.7 L719.9 343.4 L720.0 343.3 L720.5 343.6 L721.0 343.9 L721.5 344.1 L722.0 344.3 L722.0 344.3 L722.5 343.3 L723.0 342.2 L723.5 342.8 L724.0 343.3 L724.1 343.2 L724.5 344.4 L725.0 345.9 L725.2 346.4 L725.5 347.9 L726.0 350.0 L726.2 350.7 L726.5 351.0 L727.0 351.7 L727.5 353.0 L727.9 354.1 L728.0 354.2 L728.5 354.0 L729.0 353.8 L729.4 354.1 L729.5 354.7 L730.0 358.1 L730.0 358.4 L730.5 360.4 L730.5 360.3 L731.0 358.1 L731.5 356.6 L731.5 356.5 L732.0 356.1 L732.5 354.8 L732.6 354.6 L733.0 353.1 L733.5 351.3 L734.0 349.5 L734.3 348.5 L734.5 348.0 L735.0 346.8 L735.5 346.3 L735.8 346.1 L736.0 346.7 L736.5 347.4 L736.9 347.8 L737.0 347.9 L737.5 348.2 L737.9 348.4 L738.0 348.6 L738.5 349.3 L739.0 349.9 L739.0 349.5 L739.2 347.2 L739.9 338.7 L739.9 429.0Z" fill="#8B8896"/>
<path d="M739.2 429.0 L739.2 347.0 L739.7 340.9 L739.8 339.4 L739.9 338.8 L740.6 332.1 L740.6 429.0Z" fill="#80A273"/>
<path d="M739.9 429.0 L739.9 338.7 L740.4 334.0 L740.7 331.4 L740.9 333.0 L741.4 337.2 L741.5 338.3 L741.9 340.7 L742.2 341.8 L742.4 340.5 L742.9 337.6 L743.2 336.4 L743.4 336.3 L743.9 335.8 L744.3 335.4 L744.4 336.0 L744.9 338.9 L745.4 341.1 L745.4 341.3 L745.9 342.7 L746.4 343.6 L746.4 343.6 L746.9 344.9 L747.4 346.9 L747.5 347.2 L747.9 349.5 L748.6 352.4 L748.6 429.0Z" fill="#8B8896"/>
<path d="M747.9 429.0 L747.9 349.5 L748.3 352.2 L748.4 352.2 L748.5 352.4 L748.9 352.5 L749.0 352.5 L749.4 351.4 L749.9 349.9 L750.0 349.6 L750.4 349.0 L750.9 348.2 L751.2 347.6 L751.4 348.6 L751.9 351.6 L752.1 352.5 L752.4 353.9 L752.9 355.9 L752.9 356.0 L753.4 358.0 L753.9 360.2 L754.1 361.0 L754.4 361.8 L754.9 363.2 L755.4 364.4 L755.5 364.6 L755.9 363.6 L756.4 362.8 L756.8 362.2 L756.9 362.2 L757.4 361.8 L757.9 361.3 L758.0 361.2 L758.4 361.2 L758.9 361.3 L759.2 361.5 L759.4 361.5 L759.9 361.6 L760.4 360.6 L760.6 360.2 L760.9 358.0 L761.4 355.6 L761.4 355.6 L761.9 353.1 L762.3 350.8 L762.4 349.7 L762.9 345.7 L763.1 344.1 L763.4 342.0 L763.9 338.4 L764.0 338.0 L764.4 335.2 L764.6 333.8 L764.9 332.2 L765.3 329.0 L765.4 328.3 L765.9 324.6 L766.0 323.9 L766.4 328.5 L766.5 329.5 L767.2 334.0 L767.2 429.0Z" fill="#63B94F"/>
<path d="M766.5 429.0 L766.5 329.6 L767.0 332.7 L767.0 332.8 L767.5 335.9 L767.9 338.2 L768.0 338.8 L768.5 341.4 L768.7 342.5 L769.0 343.6 L769.5 345.0 L769.9 346.0 L770.0 345.5 L770.5 342.4 L770.8 340.8 L771.0 339.1 L771.5 336.9 L771.6 336.4 L772.0 334.6 L772.4 333.3 L772.5 333.1 L773.0 331.6 L773.3 329.6 L773.5 327.5 L774.0 322.4 L774.1 321.4 L774.5 320.0 L775.0 318.0 L775.0 318.1 L775.5 322.0 L776.0 325.6 L776.2 327.1 L776.5 326.6 L776.9 326.1 L777.0 326.2 L777.5 326.0 L777.5 326.0 L778.0 328.1 L778.4 330.2 L778.5 330.6 L779.0 332.3 L779.2 332.9 L779.5 333.1 L780.0 333.6 L780.1 333.6 L780.5 333.4 L780.9 333.2 L781.0 333.0 L781.5 331.4 L781.8 330.6 L782.0 329.9 L782.5 328.3 L782.6 327.8 L783.0 325.5 L783.5 323.6 L783.5 323.6 L784.0 323.7 L784.3 322.3 L784.5 322.3 L785.0 322.3 L785.2 322.6 L785.5 321.9 L786.0 320.8 L786.0 320.8 L786.5 323.2 L786.7 324.3 L787.0 325.8 L787.4 326.0 L787.5 326.6 L788.0 329.3 L788.1 329.8 L788.5 333.6 L788.6 334.2 L789.0 336.2 L789.2 336.5 L789.5 336.6 L789.8 336.8 L790.0 334.5 L790.4 331.6 L790.5 331.4 L791.0 329.4 L791.1 328.7 L791.5 328.0 L791.8 327.4 L792.0 327.0 L792.5 327.2 L792.5 327.3 L793.0 330.0 L793.2 330.5 L793.5 332.0 L793.7 332.8 L794.0 337.0 L794.2 339.4 L794.5 344.2 L794.5 344.5 L795.0 350.9 L795.0 351.3 L795.4 356.4 L795.5 356.4 L795.6 356.5 L795.6 429.0Z" fill="#E35756"/>
<path d="M232.1 224 L232.9 160.6 L233.7 224Z" fill="#8B8896"/>
<path d="M239 226 L239.6 215 L240.3 232Z" fill="#8B8896"/>
</g>
<line x1="806.5" x2="806.5" y1="65" y2="429.5" stroke="#dedee4" stroke-width="1.3"/>
<g font-size="10.9" fill="#2c2c2c" stroke="#2c2c2c" stroke-width="0.2">
<text x="815" y="151.8" textLength="18.7" lengthAdjust="spacingAndGlyphs">$2.4</text><text x="815" y="244.8" textLength="18.7" lengthAdjust="spacingAndGlyphs">$1.6</text><text x="815" y="338.0" textLength="18.7" lengthAdjust="spacingAndGlyphs">$0.8</text><text x="815" y="431.9" textLength="10.6" lengthAdjust="spacingAndGlyphs">$0</text>
<text transform="translate(840.2,236.8) rotate(90)" font-size="11.6" textLength="21.6" lengthAdjust="spacingAndGlyphs">Price</text>
</g>
<g font-size="8.7" fill="#858585">
<text x="47.0" y="445.2" textLength="33.2" lengthAdjust="spacingAndGlyphs">2020 Jan</text><text x="106.4" y="445.2" textLength="31.3" lengthAdjust="spacingAndGlyphs">2020 Jul</text><text x="169.7" y="445.2" textLength="33.2" lengthAdjust="spacingAndGlyphs">2021 Jan</text><text x="234.0" y="445.2" textLength="31.3" lengthAdjust="spacingAndGlyphs">2021 Jul</text><text x="297.0" y="445.2" textLength="33.2" lengthAdjust="spacingAndGlyphs">2022 Jan</text><text x="361.5" y="445.2" textLength="31.3" lengthAdjust="spacingAndGlyphs">2022 Jul</text><text x="552.0" y="445.2" textLength="33.2" lengthAdjust="spacingAndGlyphs">2024 Jan</text><text x="616.4" y="445.2" textLength="31.3" lengthAdjust="spacingAndGlyphs">2024 Jul</text><text x="679.0" y="445.2" textLength="33.2" lengthAdjust="spacingAndGlyphs">2025 Jan</text><text x="743.0" y="445.2" textLength="31.3" lengthAdjust="spacingAndGlyphs">2025 Jul</text>
</g>
</svg>
<div id="copy">© CryptoQuant. All rights reserved</div>

<div id="brand">ایران بروکر</div>
<svg width="900" height="471" viewBox="0 0 900 471" style="pointer-events:none">
<path d="M374.5 472V429.4H379.5C385.5 429.4 385.5 425.6 391.5 425.6H504.5C511 425.6 511 429.4 517.5 429.4H523.5V472Z" fill="#fff"/>
<g fill="none" stroke="#1338B4" stroke-width="2.05" stroke-linecap="round" stroke-linejoin="round">
<path d="M499.2 447.7 A9.1 9.1 0 1 1 494.2 438.9"/>
<path d="M483.3 453.4 L479.9 456.3"/>
<path d="M484.9 447.8 L488.5 444.5 L492.2 449.1 L499.3 440.9"/>
<path d="M497.2 439.8 L501.2 439.2 L500.5 443.6 Z" fill="#1338B4" stroke-width="1"/>
</g>
</svg>
</body></html>
